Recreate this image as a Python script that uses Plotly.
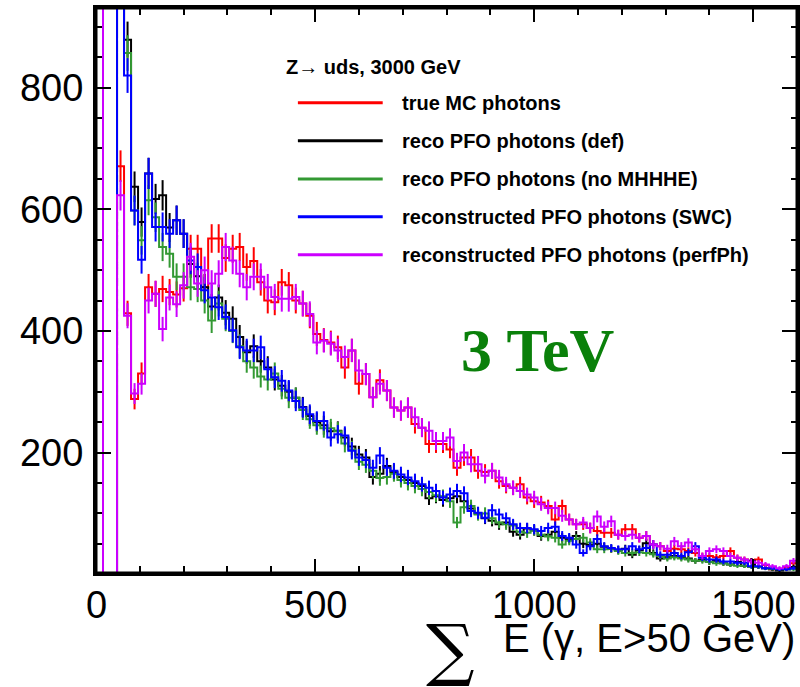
import numpy as np
import plotly.graph_objects as go

# 100 bins of 16 GeV from 0 to 1600
bin_width = 16
n_bins = 100

red_true_mc = [0,0,0,671,429,288,330,472,461,469,
464,460,470,535,535,472,552,552,520,535,
538,505,515,480,450,447,480,475,450,445,
425,395,385,381,373,340,368,313,329,291,
319,302,274,269,274,247,241,214,214,214,
205,175,192,192,170,168,170,153,145,142,
148,126,120,118,112,90,112,90,82,82,
76,71,68,68,65,74,74,60,63,49,
46,38,42,41,38,35,30,30,28,30,
38,27,24,22,24,15,8,8,12,18]

black_reco_def = [0,0,0,1050,879,637,579,659,617,623,
570,582,560,510,490,472,440,455,430,420,
390,365,375,350,340,320,310,300,290,275,
260,250,245,235,236,225,210,197,192,160,
165,178,168,160,155,150,145,125,128,122,
125,128,120,108,100,92,88,82,85,70,
65,75,72,63,65,70,60,58,63,50,
48,50,45,42,40,42,32,40,51,35,
26,28,30,28,26,22,24,20,22,18,
16,20,14,22,12,10,8,6,8,12]

green_reco_nomhhhe = [0,0,0,1000,857,598,549,615,587,538,
527,489,489,472,469,450,417,445,420,400,
375,350,340,325,320,330,305,290,290,270,
255,245,240,240,235,215,205,185,180,170,
158,160,165,155,150,145,140,135,130,128,
120,85,110,112,98,100,92,85,82,80,
70,68,72,65,62,60,49,55,58,60,
52,41,41,42,38,35,35,36,35,33,
30,26,28,26,24,22,22,20,18,18,
16,14,14,12,12,10,9,8,8,8]

blue_reco_swc = [0,0,0,1100,820,598,517,659,571,571,
560,582,560,516,505,467,455,439,423,401,
373,368,368,373,337,324,318,302,285,274,
263,252,252,225,230,228,203,192,188,175,
195,175,170,164,159,153,148,142,137,126,
131,137,133,104,101,93,105,98,92,82,
76,76,74,71,76,78,63,60,49,35,
46,58,46,43,41,41,46,41,43,49,
32,32,35,30,36,46,27,24,24,21,
21,19,19,13,13,10,10,8,8,10]

magenta_perfph = [2500,0,0,623,425,297,313,450,461,403,
455,444,475,522,478,500,478,494,538,516,
494,472,489,489,472,456,453,453,456,445,
428,381,384,379,368,357,368,335,329,291,
313,302,274,269,274,258,241,236,219,219,
225,186,200,181,181,162,170,159,148,142,
137,131,126,115,109,109,96,90,82,85,
76,95,78,87,65,63,65,60,63,49,
46,42,54,46,52,41,30,38,41,38,
30,27,24,21,19,16,13,10,13,22]

series_names = ["true MC photons", "reco PFO photons (def)", "reco PFO photons (no MHHHE)",
                "reconstructed PFO photons (SWC)", "reconstructed PFO photons (perfPh)"]
series_values = [red_true_mc, black_reco_def, green_reco_nomhhhe, blue_reco_swc, magenta_perfph]
series_colors = ["#ff0000", "#000000", "#339933", "#0000ff", "#cc00ff"]

x_ticks = [0, 500, 1000, 1500]
y_ticks = [200, 400, 600, 800]

edges = np.arange(n_bins + 1) * bin_width
centers = edges[:-1] + bin_width / 2

fig = go.Figure()
for name, vals, col in zip(series_names, series_values, series_colors):
    v = np.array(vals, dtype=float)
    xs = np.concatenate([[0], edges])
    ys = np.concatenate([[0], v, [v[-1]]])
    fig.add_trace(go.Scatter(x=xs, y=ys, mode="lines", line=dict(color=col, width=2, shape="hv"),
                             showlegend=False, hoverinfo="skip"))
    fig.add_trace(go.Scatter(x=centers, y=v, mode="markers", marker=dict(size=0.1, color=col),
                             error_y=dict(type="data", array=np.sqrt(v), color=col, thickness=2, width=0),
                             showlegend=False, hoverinfo="skip"))

font_main = "Liberation Sans, Arial, Helvetica, sans-serif"

fig.update_layout(
    width=800, height=687,
    margin=dict(l=96, r=3, t=8, b=114),
    paper_bgcolor="white", plot_bgcolor="white",
    showlegend=False,
    xaxis=dict(range=[0, 1600], tickvals=x_ticks, showticklabels=False,
               ticks="inside", ticklen=14, tickwidth=2, tickcolor="black",
               showline=True, linecolor="black", linewidth=3, mirror="ticks",
               showgrid=False, zeroline=False, automargin=False,
               minor=dict(dtick=100, ticklen=7, tickwidth=2, tickcolor="black", ticks="inside", showgrid=False)),
    yaxis=dict(range=[2, 931], tickvals=y_ticks, ticktext=[str(t) for t in y_ticks],
               ticks="inside", ticklen=15, tickwidth=2, tickcolor="black",
               showline=True, linecolor="black", linewidth=3, mirror="ticks",
               showgrid=False, zeroline=False, automargin=False,
               tickfont=dict(family=font_main, size=38, color="black"),
               ticklabelstandoff=2,
               minor=dict(dtick=50, ticklen=6, tickwidth=2, tickcolor="black", ticks="inside", showgrid=False)),
)

# x tick labels placed as text at the tick positions
for t in x_ticks:
    fig.add_annotation(xref="x", yref="paper", x=t, y=-0.0566, xanchor="center", yanchor="middle",
                       text=str(t), showarrow=False,
                       font=dict(family=font_main, size=38, color="black"))

# frame box
fig.add_shape(type="rect", xref="paper", yref="paper", x0=0, x1=1, y0=0, y1=1,
              line=dict(color="black", width=3), fillcolor="rgba(0,0,0,0)", layer="above")

# legend header and entries (inside the frame)
fig.add_annotation(xref="paper", yref="paper", x=0.268, y=0.8956, xanchor="left", yanchor="middle",
                   text="<b>Z→ uds, 3000 GeV</b>", showarrow=False,
                   font=dict(family=font_main, size=20, color="black"))
leg_y = [0.8324, 0.7651, 0.6973, 0.6307, 0.5634]
for name, col, yy in zip(series_names, series_colors, leg_y):
    fig.add_shape(type="line", xref="paper", yref="paper", x0=0.288, x1=0.409, y0=yy, y1=yy,
                  line=dict(color=col, width=3))
    fig.add_annotation(xref="paper", yref="paper", x=0.4335, y=yy, xanchor="left", yanchor="middle",
                       text="<b>" + name + "</b>", showarrow=False,
                       font=dict(family=font_main, size=20, color="black"))

fig.add_annotation(xref="paper", yref="paper", x=0.6305, y=0.3947, xanchor="center", yanchor="middle",
                   text="<b>3 TeV</b>", showarrow=False,
                   font=dict(family="Liberation Serif, Times New Roman, serif", size=62, color="#0a800a"))

# x axis title: big sigma + text
fig.add_annotation(xref="paper", yref="paper", x=0.505, y=-0.135, xanchor="center", yanchor="middle",
                   text="∑", showarrow=False,
                   font=dict(family="DejaVu Serif, serif", size=68, color="black"))
fig.add_annotation(xref="paper", yref="paper", x=1.0, y=-0.115, xanchor="right", yanchor="middle",
                   text="E (γ, E>50 GeV)", showarrow=False,
                   font=dict(family=font_main, size=40, color="black"))

fig.write_html("out.html", config={"displayModeBar": False},
               post_script="document.body.style.margin='0px';")
